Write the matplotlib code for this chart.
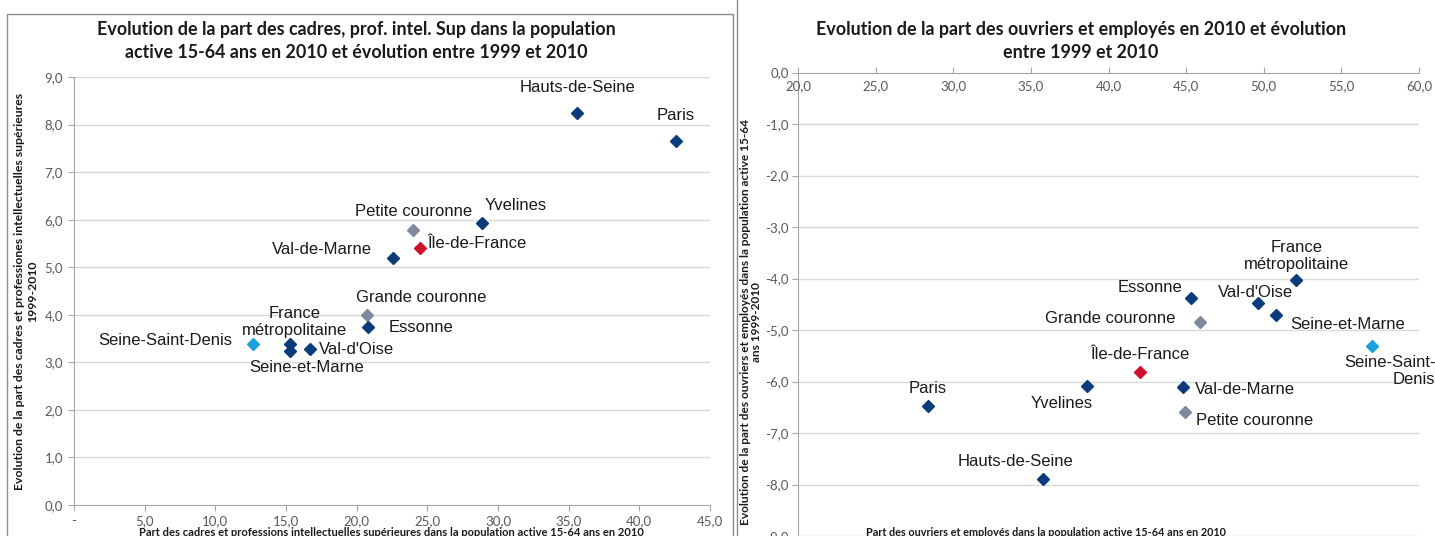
import matplotlib
matplotlib.use("Agg")
import matplotlib.pyplot as plt
from matplotlib.patches import Rectangle
from matplotlib.lines import Line2D

W, H = 1435, 536
DPI = 100

# ---- data: cadres / professions intellectuelles supérieures ----
cad_names = ["Hauts-de-Seine", "Paris", "Yvelines", "Petite couronne", "Île-de-France",
             "Val-de-Marne", "Grande couronne", "Essonne", "Seine-Saint-Denis",
             "France\nmétropolitaine", "Seine-et-Marne", "Val-d'Oise"]
cad_share = [35.6, 42.6, 28.9, 24.0, 24.5, 22.6, 20.7, 20.8, 12.7, 15.3, 15.3, 16.7]
cad_evol = [8.24, 7.65, 5.92, 5.78, 5.40, 5.19, 3.99, 3.74, 3.38, 3.38, 3.24, 3.27]
cad_kind = ["dep", "dep", "dep", "agg", "idf", "dep", "agg", "dep", "ssd", "dep", "dep", "dep"]

# ---- data: ouvriers et employés ----
ouv_names = ["France\nmétropolitaine", "Essonne", "Val-d'Oise", "Seine-et-Marne",
             "Grande couronne", "Seine-Saint-\nDenis", "Île-de-France", "Yvelines",
             "Val-de-Marne", "Petite couronne", "Paris", "Hauts-de-Seine"]
ouv_share = [52.1, 45.3, 49.6, 50.8, 45.9, 57.0, 42.0, 38.6, 44.8, 44.9, 28.4, 35.8]
ouv_evol = [-4.03, -4.37, -4.47, -4.70, -4.84, -5.31, -5.81, -6.08, -6.10, -6.59, -6.47, -7.89]
ouv_kind = ["dep", "dep", "dep", "dep", "agg", "ssd", "idf", "dep", "dep", "agg", "dep", "dep"]

cad_xticks = [0, 5, 10, 15, 20, 25, 30, 35, 40, 45]
cad_xticklabels = ["-", "5,0", "10,0", "15,0", "20,0", "25,0", "30,0", "35,0", "40,0", "45,0"]
cad_yticks = [0, 1, 2, 3, 4, 5, 6, 7, 8, 9]
ouv_xticks = [20, 25, 30, 35, 40, 45, 50, 55, 60]
ouv_yticks = [0, -1, -2, -3, -4, -5, -6, -7, -8, -9]

KIND_COLORS = {"dep": "#0B3B7A", "agg": "#7D8A9C", "idf": "#D0122F", "ssd": "#1BA1DB"}

# label placement: (dx px, dy px, ha, va)
cad_lab = {
    "Hauts-de-Seine": (0, 18, "center", "bottom"),
    "Paris": (0, 18, "center", "bottom"),
    "Yvelines": (2, 10, "left", "bottom"),
    "Petite couronne": (0, 11, "center", "bottom"),
    "Île-de-France": (7, 5, "left", "center"),
    "Val-de-Marne": (-21, 9, "right", "center"),
    "Grande couronne": (-11, 10, "left", "bottom"),
    "Essonne": (21, 0, "left", "center"),
    "Seine-Saint-Denis": (-21, 4, "right", "center"),
    "France\nmétropolitaine": (4, 6, "center", "bottom"),
    "Seine-et-Marne": (-41, -9, "left", "top"),
    "Val-d'Oise": (9, 0, "left", "center"),
}
ouv_lab = {
    "France\nmétropolitaine": (0, 8, "center", "bottom"),
    "Essonne": (-8, 10, "right", "center"),
    "Val-d'Oise": (-2, 10, "center", "center"),
    "Seine-et-Marne": (14, -10, "left", "center"),
    "Grande couronne": (-25, 3, "right", "center"),
    "Seine-Saint-\nDenis": (63, -9, "right", "top"),
    "Île-de-France": (0, 10, "center", "bottom"),
    "Yvelines": (-25, -18, "center", "center"),
    "Val-de-Marne": (12, -3, "left", "center"),
    "Petite couronne": (11, -9, "left", "center"),
    "Paris": (-1, 10, "center", "bottom"),
    "Hauts-de-Seine": (-28, 10, "center", "bottom"),
}

TICK_FONT = "Lato"
LABEL_FONT = ["Liberation Sans", "DejaVu Sans"]
TICK_COLOR = "#595959"
AXIS_COLOR = "#A6A6A6"
GRID_COLOR = "#D9D9D9"

fig = plt.figure(figsize=(W / DPI, H / DPI), dpi=DPI)
fig.patch.set_facecolor("white")


def px_box(x0, y0, x1, y1):
    """Axes rectangle from pixel corners (top-left origin)."""
    return [x0 / W, 1 - y1 / H, (x1 - x0) / W, (y1 - y0) / H]


# chart frames
fig.add_artist(Rectangle((7 / W, -0.02), (733 - 7) / W, 1 - 14 / H + 0.02,
                         transform=fig.transFigure, fill=False, ec="#8C8C8C", lw=1.0))
fig.add_artist(Line2D([737 / W, 737 / W], [0, 1], transform=fig.transFigure,
                      color="#8C8C8C", lw=1.0))


def style_axes(ax):
    for s in ax.spines.values():
        s.set_visible(False)
    ax.set_facecolor("none")
    ax.grid(False)
    ax.tick_params(colors=AXIS_COLOR, labelcolor=TICK_COLOR, length=4, width=0.8)


def draw_points(ax, xs, ys, kinds, names, placement):
    for x, y, k, n in zip(xs, ys, kinds, names):
        ax.plot([x], [y], marker="D", ms=6.3, color=KIND_COLORS[k], mec=KIND_COLORS[k],
                ls="none", zorder=5, clip_on=False)
        dx, dy, ha, va = placement[n]
        ax.annotate(n, (x, y), xytext=(dx, dy), textcoords="offset pixels",
                    ha=ha, va=va, multialignment="center" if ha != "right" else "right",
                    fontsize=12, family=LABEL_FONT, color="#1A1A1A", zorder=6,
                    annotation_clip=False, linespacing=1.15)


# ---------------- left chart ----------------
ax1 = fig.add_axes(px_box(74, 77, 710, 505))
style_axes(ax1)
ax1.set_xlim(0, 45)
ax1.set_ylim(0, 9)
for v in cad_yticks[1:]:
    ax1.axhline(v, color=GRID_COLOR, lw=1.0, zorder=1)
ax1.spines["left"].set_visible(True)
ax1.spines["left"].set_color(AXIS_COLOR)
ax1.spines["bottom"].set_visible(True)
ax1.spines["bottom"].set_color(AXIS_COLOR)
ax1.set_xticks(cad_xticks)
ax1.set_xticklabels(cad_xticklabels, family=TICK_FONT, fontsize=9.5)
ax1.set_yticks(cad_yticks)
ax1.set_yticklabels([f"{v:.1f}".replace(".", ",") for v in cad_yticks],
                    family=TICK_FONT, fontsize=9.5)
ax1.tick_params(axis="x", pad=3)
ax1.tick_params(axis="y", pad=4)
draw_points(ax1, cad_share, cad_evol, cad_kind, cad_names, cad_lab)

fig.text(356 / W, 1 - 41 / H,
         "Evolution de la part des cadres, prof. intel. Sup dans la population\n"
         "active 15-64 ans en 2010 et évolution entre 1999 et 2010",
         ha="center", va="center", family=TICK_FONT, weight="bold", fontsize=12.9,
         color="#1A1A1A", linespacing=1.4)
fig.text(26 / W, 1 - 291 / H,
         "Evolution de la part des cadres et professiones intellectuelles supérieures\n1999-2010",
         rotation=90, ha="center", va="center", family=TICK_FONT, weight="bold",
         fontsize=8.8, color="#1A1A1A", linespacing=1.2)
fig.text(391 / W, 1 - 527 / H,
         "Part des cadres et professions intellectuelles supérieures dans la population active 15-64 ans en 2010",
         ha="center", va="top", family=TICK_FONT, weight="bold", fontsize=8.0, color="#1A1A1A")

# ---------------- right chart ----------------
ax2 = fig.add_axes(px_box(798, 72.5, 1419, 536))
style_axes(ax2)
ax2.set_xlim(20, 60)
ax2.set_ylim(-9, 0)
for v in ouv_yticks[1:]:
    ax2.axhline(v, color=GRID_COLOR, lw=1.0, zorder=1)
ax2.spines["left"].set_visible(True)
ax2.spines["left"].set_color(AXIS_COLOR)
ax2.spines["top"].set_visible(True)
ax2.spines["top"].set_color(AXIS_COLOR)
ax2.xaxis.tick_top()
ax2.set_xticks(ouv_xticks)
ax2.set_xticklabels([])
for v in ouv_xticks:
    ax2.annotate(f"{v:.1f}".replace(".", ","), (v, 0), xytext=(0, -8),
                 textcoords="offset pixels", ha="center", va="top",
                 family=TICK_FONT, fontsize=9.5, color=TICK_COLOR, annotation_clip=False)
ax2.set_yticks(ouv_yticks)
ax2.set_yticklabels([f"{v:.1f}".replace(".", ",") for v in ouv_yticks],
                    family=TICK_FONT, fontsize=9.5)
ax2.tick_params(axis="y", pad=2.5)
draw_points(ax2, ouv_share, ouv_evol, ouv_kind, ouv_names, ouv_lab)

fig.text(1081 / W, 1 - 41 / H,
         "Evolution de la part des ouvriers et employés en 2010 et évolution\n"
         "entre 1999 et 2010",
         ha="center", va="center", family=TICK_FONT, weight="bold", fontsize=12.9,
         color="#1A1A1A", linespacing=1.4)
fig.text(751 / W, 1 - 322 / H,
         "Evolution de la part des ouvriers et employés dans la population active 15-64\nans 1999-2010",
         rotation=90, ha="center", va="center", family=TICK_FONT, weight="bold",
         fontsize=8.6, color="#1A1A1A", linespacing=1.1)
fig.text(1046 / W, 1 - 527 / H,
         "Part des ouvriers et employés dans la population active 15-64 ans en 2010",
         ha="center", va="top", family=TICK_FONT, weight="bold", fontsize=7.8, color="#1A1A1A")

fig.savefig("out.png", dpi=DPI, facecolor="white")
